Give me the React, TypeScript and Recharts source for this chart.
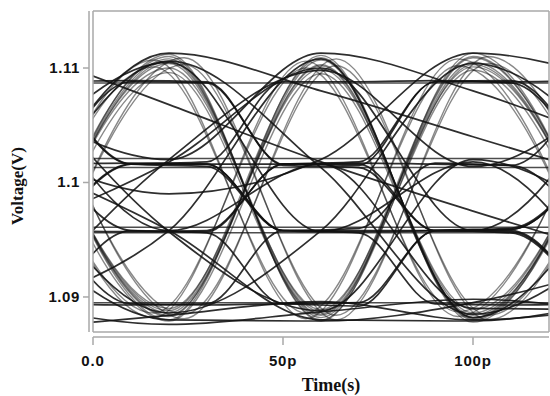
import React from 'react';
import { LineChart, Line, XAxis, YAxis, ReferenceLine } from 'recharts';

// sample instants (ps). One UI = 40ps, eye centres at 20/60/100, crossings at 0/40/80/120
const centerTimes = [-20, 20, 60, 100, 140];
// the same centres for traces that arrive a little early / late (jitter)
const earlyTimes = [-24, 16, 56, 96, 136];
const lateTimes = [-16, 24, 64, 104, 144];
// just before / after each crossing, used for the fast adjacent-level steps
const edgeTimes = [-10, 10, 30, 50, 70, 90, 110, 130];

const xTicks = [0, 50, 100];
const xTickLabels = ['0.0', '50p', '100p'];
const yTicks = [1.09, 1.1, 1.11];
const yTickLabels = ['1.09', '1.1', '1.11'];

// full swing 0<->3 transitions (the grey bundle), values at centerTimes
const swingTraces = [
  [1.0879, 1.1112, 1.0879, 1.1113, 1.088],
  [1.1112, 1.088, 1.1111, 1.0878, 1.1112],
  [1.0883, 1.1108, 1.0882, 1.1109, 1.0884],
  [1.1108, 1.0883, 1.1107, 1.0882, 1.1109],
  [1.0886, 1.1104, 1.0885, 1.1105, 1.0886],
  [1.1104, 1.0886, 1.1103, 1.0886, 1.1105],
  [1.089, 1.11, 1.0889, 1.1101, 1.089],
  [1.11, 1.089, 1.1099, 1.0889, 1.11],
  [1.0881, 1.1106, 1.0887, 1.111, 1.0883],
  [1.111, 1.0884, 1.1102, 1.0881, 1.1107],
  [1.0878, 1.1096, 1.0884, 1.1098, 1.0879],
  [1.1096, 1.0879, 1.1095, 1.0884, 1.1097],
  [1.0888, 1.111, 1.088, 1.1103, 1.0887],
  [1.1103, 1.0888, 1.1109, 1.088, 1.1101],
];

// full swings with a little timing jitter
const earlySwings = [
  [1.0882, 1.1107, 1.0881, 1.1108, 1.0882],
  [1.1107, 1.0882, 1.1106, 1.0883, 1.1108],
  [1.0886, 1.1101, 1.0886, 1.1102, 1.0885],
  [1.1101, 1.0886, 1.11, 1.0887, 1.1102],
];
const lateSwings = [
  [1.088, 1.1109, 1.088, 1.111, 1.0881],
  [1.1109, 1.0881, 1.1108, 1.088, 1.111],
  [1.0885, 1.1103, 1.0884, 1.1104, 1.0886],
  [1.1103, 1.0885, 1.1102, 1.0884, 1.1104],
];

// slow two-level transitions and drifting traces, values at centerTimes
const slowTraces = [
  [1.1016, 1.1105, 1.0957, 1.1018, 1.0886],
  [1.0958, 1.1018, 1.11, 1.0958, 1.1102],
  [1.11, 1.0957, 1.0888, 1.102, 1.0958],
  [1.0886, 1.102, 1.1098, 1.1014, 1.1095],
  [1.1016, 1.0886, 1.0958, 1.1104, 1.1013],
  [1.0958, 1.1106, 1.1013, 1.0885, 1.0957],
  [1.0892, 1.0958, 1.1108, 1.0882, 1.102],
  [1.1105, 1.0958, 1.1016, 1.089, 1.0889],
  [1.0965, 1.1113, 1.108, 1.104, 1.1],
  [1.107, 1.102, 1.1113, 1.108, 1.103],
  [1.103, 1.099, 1.102, 1.1113, 1.1085],
  [1.1118, 1.1068, 1.1018, 1.0975, 1.0935],
  [1.096, 1.088, 1.0879, 1.0895, 1.093],
  [1.102, 1.0958, 1.088, 1.0879, 1.09],
  [1.0872, 1.0884, 1.0896, 1.088, 1.0893],
  [1.0894, 1.0876, 1.0887, 1.0898, 1.0885],
];

// fast steps between neighbouring levels, values at edgeTimes
const stepTraces = [
  [1.1088, 1.1016, 1.1014, 1.0958, 1.096, 1.1017, 1.1015, 1.1088],
  [1.1016, 1.1088, 1.1087, 1.1015, 1.1013, 1.0958, 1.0957, 1.0894],
  [1.0958, 1.1016, 1.1018, 1.1088, 1.1088, 1.1089, 1.1087, 1.1016],
  [1.0894, 1.0958, 1.0957, 1.1016, 1.1016, 1.0958, 1.0958, 1.0894],
  [1.1016, 1.0958, 1.0956, 1.0894, 1.0895, 1.0958, 1.096, 1.1016],
  [1.0958, 1.0894, 1.0893, 1.0894, 1.0892, 1.0958, 1.0959, 1.1016],
  [1.1088, 1.1089, 1.1088, 1.1016, 1.1017, 1.1016, 1.1015, 1.0958],
  [1.0958, 1.0957, 1.0958, 1.1016, 1.1018, 1.1088, 1.1089, 1.1016],
  [1.1016, 1.1017, 1.1016, 1.0958, 1.0956, 1.0894, 1.0893, 1.0894],
  [1.0894, 1.0893, 1.0894, 1.0958, 1.0957, 1.0958, 1.0959, 1.1016],
  [1.1088, 1.1016, 1.1016, 1.1016, 1.1015, 1.1088, 1.1088, 1.1089],
  [1.0958, 1.1016, 1.1016, 1.0958, 1.0958, 1.0958, 1.0956, 1.0894],
];

// steady symbols (flat lines across the window)
const flatLevels = [1.1087, 1.1021, 1.1013, 1.0961, 1.0956, 1.0895];

type Trace = { points: { t: number; v: number }[]; opacity: number; width: number };

const toPoints = (ts: number[], vs: number[]) => ts.map((t, i) => ({ t, v: vs[i] }));

const grey = { opacity: 0.5, width: 1.4 };
const dark = { opacity: 0.88, width: 1.7 };

const series: Trace[] = [
  ...swingTraces.map((v) => ({ points: toPoints(centerTimes, v), ...grey })),
  ...earlySwings.map((v) => ({ points: toPoints(earlyTimes, v), ...grey })),
  ...lateSwings.map((v) => ({ points: toPoints(lateTimes, v), ...grey })),
  ...slowTraces.map((v) => ({ points: toPoints(centerTimes, v), ...dark })),
  ...stepTraces.map((v) => ({ points: toPoints(edgeTimes, v), ...dark })),
  ...flatLevels.map((lv) => ({ points: [{ t: -20, v: lv }, { t: 140, v: lv }], opacity: 0.75, width: 1.5 })),
];

const Y_MIN = 1.08694;
const Y_MAX = 1.11498;
const frame = '#a8a8a8';
const tickFont = '"Liberation Sans", Arial, Helvetica, sans-serif';
const titleFont = '"Liberation Serif", "Times New Roman", Times, serif';

const YTick = (props: any) => {
  const { y, payload } = props;
  const idx = yTicks.indexOf(payload.value);
  return (
    <g>
      <line x1={83} x2={89} y1={y} y2={y} stroke={frame} strokeWidth={1.5} />
      <text x={80} y={y + 5} textAnchor="end" fontFamily={tickFont} fontWeight="bold" fontSize={15} letterSpacing={0.6} fill="#111">
        {idx >= 0 ? yTickLabels[idx] : String(payload.value)}
      </text>
    </g>
  );
};

const XTick = (props: any) => {
  const { x, payload } = props;
  const idx = xTicks.indexOf(payload.value);
  return (
    <g>
      <line x1={x} x2={x} y1={337} y2={345} stroke={frame} strokeWidth={1.5} />
      <text x={x} y={366} textAnchor="middle" fontFamily={tickFont} fontWeight="bold" fontSize={15} letterSpacing={0.8} fill="#111">
        {idx >= 0 ? xTickLabels[idx] : String(payload.value)}
      </text>
    </g>
  );
};

const App: React.FC = () => {
  return (
    <div style={{ position: 'absolute', left: 0, top: 0, width: 550, height: 396, background: '#fff' }}>
      <LineChart width={550} height={396} margin={{ top: 11, right: 1, bottom: 0, left: 0 }}>
        <XAxis
          dataKey="t"
          type="number"
          domain={[0, 120]}
          ticks={xTicks}
          allowDataOverflow
          axisLine={false}
          tickLine={false}
          height={64}
          tick={<XTick />}
        />
        <YAxis
          type="number"
          domain={[Y_MIN, Y_MAX]}
          ticks={yTicks}
          allowDataOverflow
          axisLine={false}
          tickLine={false}
          width={93}
          tick={<YTick />}
        />
        {series.map((s, k) => (
          <Line
            key={k}
            data={s.points}
            dataKey="v"
            type="monotoneX"
            stroke="#111"
            strokeOpacity={s.opacity}
            strokeWidth={s.width}
            dot={false}
            activeDot={false}
            isAnimationActive={false}
          />
        ))}
        {/* plot frame and offset axis lines */}
        <ReferenceLine x={0} stroke={frame} strokeWidth={1.5} ifOverflow="visible" />
        <ReferenceLine x={120} stroke={frame} strokeWidth={1.5} ifOverflow="visible" />
        <ReferenceLine y={Y_MAX} stroke={frame} strokeWidth={1.5} ifOverflow="visible" />
        <ReferenceLine y={Y_MIN} stroke={frame} strokeWidth={1.5} ifOverflow="visible" />
        <ReferenceLine x={-1.05} stroke={frame} strokeWidth={1.5} ifOverflow="visible" />
        <ReferenceLine y={1.0865} stroke={frame} strokeWidth={1.5} ifOverflow="visible" />
      </LineChart>
      <div
        style={{
          position: 'absolute',
          left: -42.5,
          top: 176,
          width: 120,
          height: 20,
          lineHeight: '20px',
          textAlign: 'center',
          transform: 'rotate(-90deg)',
          fontFamily: titleFont,
          fontWeight: 'bold',
          fontSize: 17,
          color: '#111',
        }}
      >
        Voltage(V)
      </div>
      <div
        style={{
          position: 'absolute',
          left: 271,
          top: 375,
          width: 120,
          height: 20,
          lineHeight: '20px',
          textAlign: 'center',
          fontFamily: titleFont,
          fontWeight: 'bold',
          fontSize: 18,
          color: '#111',
        }}
      >
        Time(s)
      </div>
    </div>
  );
};

export default App;
